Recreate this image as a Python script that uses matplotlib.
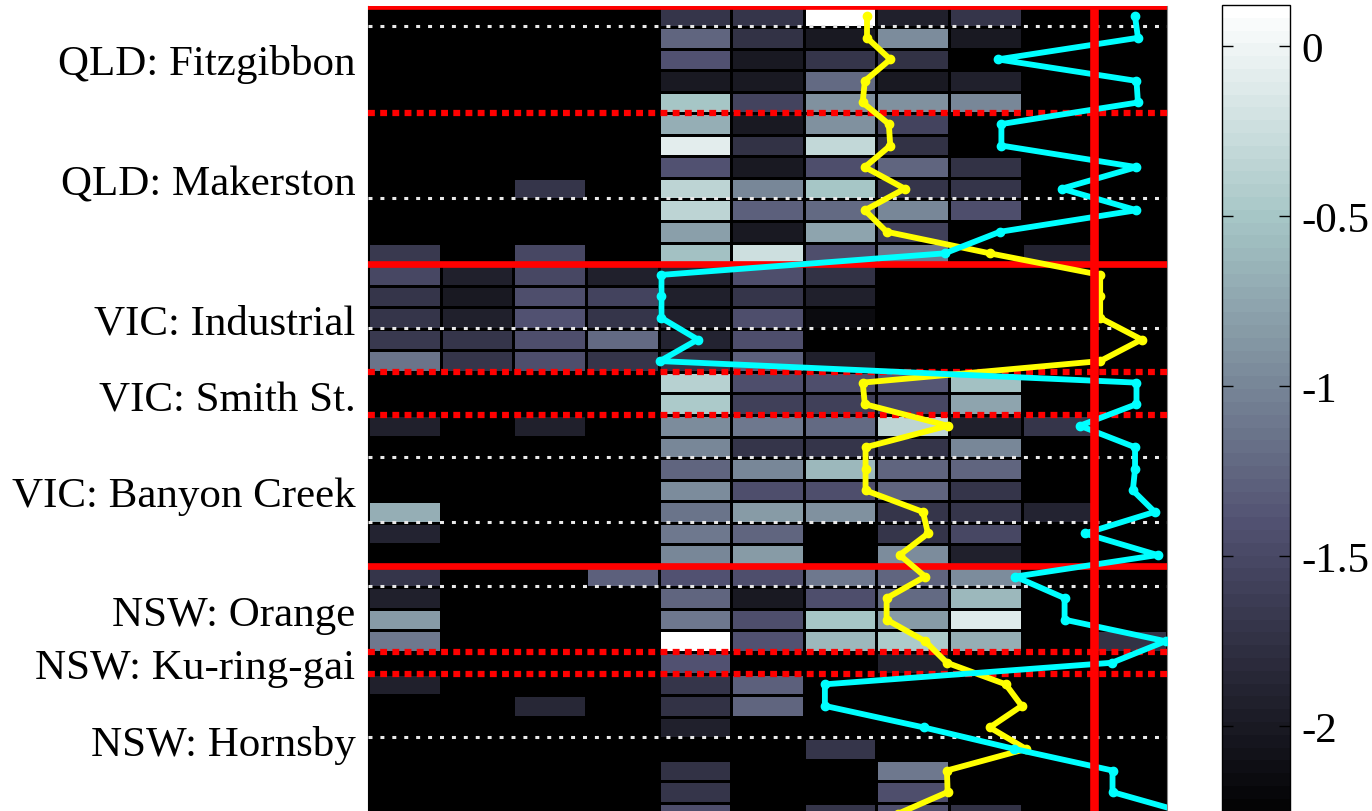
import numpy as np
import matplotlib
matplotlib.use("Agg")
import matplotlib.pyplot as plt

plt.rcParams["axes.unicode_minus"] = False
SERIF = ["Liberation Serif", "DejaVu Serif"]

n = np.nan

# cell values, one list per row (top to bottom), 11 columns each
r00 = [n, n, n, n, -1.70, -1.70, 0.12, -1.95, -1.70, n, n]
r01 = [n, n, n, n, -1.25, -1.75, -2.00, -0.95, -2.00, n, n]
r02 = [n, n, n, n, -1.40, -2.00, -1.70, -1.75, n, n, n]
r03 = [n, n, n, n, -2.00, -2.00, -1.20, -2.00, -1.95, n, n]
r04 = [n, n, n, n, -0.50, -1.55, -0.90, -0.90, -1.00, n, n]
r05 = [n, n, n, n, -0.70, -2.00, -0.90, -1.55, n, n, n]
r06 = [n, n, n, n, -0.10, -1.75, -0.30, -1.75, n, n, n]
r07 = [n, n, n, n, -1.40, -2.00, -1.45, -1.25, -1.75, n, n]
r08 = [n, n, -1.70, n, -0.35, -1.00, -0.50, -1.70, -1.70, n, n]
r09 = [n, n, n, n, -0.35, -1.30, -1.20, -1.00, -1.45, n, n]
r10 = [n, n, n, n, -0.80, -2.00, -0.75, -1.60, n, n, n]
r11 = [-1.65, n, -1.50, n, -0.55, -0.25, -1.45, -1.10, n, -1.90, n]
r12 = [-1.50, -1.95, -1.50, -1.95, -1.90, -1.45, -1.75, n, n, n, n]
r13 = [-1.70, -2.00, -1.45, -1.55, -1.95, -1.70, -1.95, n, n, n, n]
r14 = [-1.70, -1.95, -1.40, -1.70, -1.95, -1.45, -2.15, n, n, n, n]
r15 = [-1.65, -1.70, -1.45, -1.20, -1.90, -1.45, n, n, n, n, n]
r16 = [-1.15, -1.70, -1.45, -1.70, -1.75, -1.30, -1.95, n, n, n, n]
r17 = [n, n, n, n, -0.38, -1.45, -1.45, -1.35, -0.55, n, n]
r18 = [n, n, n, n, -0.45, -1.60, -1.60, -1.50, -0.75, n, n]
r19 = [-1.95, n, -1.95, n, -0.95, -1.10, -1.20, -0.35, -1.95, -1.70, n]
r20 = [n, n, n, n, -1.00, -1.70, -1.70, -1.70, -1.00, n, n]
r21 = [n, n, n, n, -1.25, -1.00, -0.60, -1.25, -1.25, n, n]
r22 = [n, n, n, n, -0.95, -1.45, -1.45, -1.25, -1.70, n, n]
r23 = [-0.70, n, n, n, -1.15, -0.85, -0.90, -1.70, -1.70, -1.90, n]
r24 = [-1.90, n, n, n, -1.10, -1.25, n, -1.70, -1.50, n, n]
r25 = [n, n, n, n, -1.00, -0.85, n, -0.95, -1.95, n, n]
r26 = [-1.70, n, n, -1.30, -1.40, -1.45, -1.10, -1.25, -0.95, n, n]
r27 = [-1.95, n, n, n, -1.25, -2.00, -1.45, -1.20, -0.60, n, n]
r28 = [-0.85, n, n, n, -1.10, -1.45, -0.50, -0.85, -0.12, n, n]
r29 = [-1.10, n, n, n, 0.12, -1.40, -0.60, -0.45, -0.70, n, -1.75]
r30 = [n, n, n, n, -1.40, n, n, -1.95, n, n, n]
r31 = [-1.95, n, n, n, -1.70, -1.30, n, n, n, n, n]
r32 = [n, n, -1.85, n, -1.75, -1.25, n, n, n, n, n]
r33 = [n, n, n, n, -1.95, n, n, n, n, n, n]
r34 = [n, n, n, n, n, n, -1.70, n, n, n, n]
r35 = [n, n, n, n, -1.75, n, n, -1.10, n, n, n]
r36 = [n, n, n, n, -1.70, n, n, -1.45, n, n, n]
r37 = [n, n, n, n, -1.45, n, -1.70, -1.45, -1.75, n, n]

rows = [r00, r01, r02, r03, r04, r05, r06, r07, r08, r09, r10, r11, r12,
        r13, r14, r15, r16, r17, r18, r19, r20, r21, r22, r23, r24, r25,
        r26, r27, r28, r29, r30, r31, r32, r33, r34, r35, r36, r37]

# two profile series, one point per row (x in column units)
yellow_x = [6.87, 6.87, 7.19, 6.84, 6.81, 7.17, 7.19, 6.84, 7.39, 6.84,
            7.14, 8.56, 10.08, 10.08, 10.08, 10.65, 10.08, 6.81, 6.84, 7.98,
            6.85, 6.85, 6.85, 7.64, 7.71, 7.32, 7.67, 7.14, 7.14, 7.67,
            7.97, 8.78, 9.00, 8.56, 9.06, 7.97, 7.98, 7.30]
cyan_x = [10.56, 10.60, 8.67, 10.58, 10.60, 8.72, 8.72, 10.58, 9.55, 10.58,
          8.70, 7.94, 4.04, 4.04, 4.04, 4.54, 4.02, 10.58, 10.58, 9.80,
          10.56, 10.56, 10.53, 10.83, 9.87, 10.87, 8.91, 9.59, 9.59, 10.98,
          10.24, 6.29, 6.29, 7.65, 8.90, 10.25, 10.25, 11.30]

# site labels and their row positions
site_labels = ["QLD: Fitzgibbon", "QLD: Makerston", "VIC: Industrial",
               "VIC: Smith St.", "VIC: Banyon Creek", "NSW: Orange",
               "NSW: Ku-ring-gai", "NSW: Hornsby"]
label_rows = [2.5, 8.1, 14.55, 18.1, 22.55, 28.05, 30.5, 34.1]

state_breaks = [0, 12, 26]          # solid red separators
site_breaks = [5, 17, 19, 30, 31]   # dotted red separators
year_breaks = [1, 9, 15, 21, 24, 27, 34]
ref_col = 10

cbar_ticks = [0, -0.5, -1, -1.5, -2]
cbar_labels = ["0", "-0.5", "-1", "-1.5", "-2"]
vmin, vmax = -2.29, 0.12

values = np.array(rows, dtype=float)
nrow, ncol = values.shape

W, H = 1372, 812
fig = plt.figure(figsize=(W / 100, H / 100), dpi=100)
top_px, row_px = 6.5, 21.55
bot_px = top_px + nrow * row_px
ax = fig.add_axes([368 / W, (H - bot_px) / H, 799 / W, (bot_px - top_px) / H])
ax.set_facecolor("black")

cmap = plt.get_cmap("bone", 64)
mesh = ax.pcolormesh(np.arange(ncol + 1), np.arange(nrow + 1),
                     np.ma.masked_invalid(values), cmap=cmap,
                     vmin=vmin, vmax=vmax, edgecolors="black",
                     linewidth=0.9)
ax.set_xlim(0, ncol)
ax.set_ylim(nrow, 0)

for yb in year_breaks:
    ax.axhline(yb - 0.05, color="#e8e8e8", lw=2.2, ls=(0, (1.3, 2.6)),
               zorder=3)
for yb in site_breaks:
    ax.axhline(yb, color="#ff0000", lw=4.5, ls=(0, (1.1, 0.85)), zorder=4)
for yb in state_breaks:
    ax.axhline(yb, color="#ff0000", lw=4.8, zorder=4)

yc = np.arange(nrow) + 0.5
ax.plot(yellow_x, yc, color="#ffff00", lw=4.2, marker="o", ms=6,
        zorder=5)
ax.plot(cyan_x, yc, color="#00ffff", lw=4.2, marker="o", ms=6, zorder=5)
ax.axvline(ref_col, color="#ff0000", lw=6.2, zorder=6)

ax.set_xticks([])
ax.set_yticks(label_rows)
ax.set_yticklabels(site_labels, fontsize=31, family=SERIF)
ax.tick_params(axis="y", length=0, pad=9)
for side in ("top", "bottom"):
    ax.spines[side].set_visible(False)
ax.spines["left"].set_color("black")
ax.spines["right"].set_color("#888888")

cax = fig.add_axes([1222 / W, (H - bot_px) / H, 68 / W, (bot_px - 6) / H])
cb = fig.colorbar(mesh, cax=cax, ticks=cbar_ticks)
cb.ax.set_yticklabels(cbar_labels, fontsize=31, family=SERIF)
cb.ax.tick_params(direction="in", left=True, right=True, length=8,
                  width=1, pad=8)
cb.outline.set_linewidth(1)

fig.savefig("out.png", dpi=100)
